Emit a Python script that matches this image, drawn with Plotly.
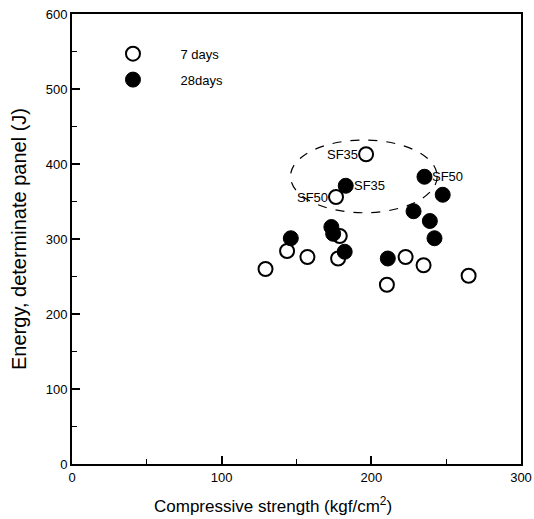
import plotly.graph_objects as go

# 7 days (open circles)
x7 = [196.5, 176.4, 178.9, 177.8, 143.7, 157.3, 129.3, 222.9, 234.9, 210.4, 265.0]
y7 = [413, 356, 304, 274, 284, 276, 260, 276, 265, 239, 251]
# 28 days (filled circles)
x28 = [182.9, 173.3, 174.5, 182.2, 146.2, 235.5, 247.7, 228.2, 239.1, 242.2, 211.0]
y28 = [371, 316, 307, 283, 301, 383, 359, 337, 324, 301, 274]

x_ticks = [0, 100, 200, 300]
y_ticks = [0, 100, 200, 300, 400, 500, 600]

# point labels: (x, y, text, side)
labels = [
    (196.5, 413, "SF35", "left"),
    (176.4, 356, "SF50", "left"),
    (182.9, 371, "SF35", "right"),
    (235.5, 383, "SF50", "right"),
]

font_family = "Liberation Sans, Arial, sans-serif"

fig = go.Figure()
fig.add_trace(go.Scatter(
    x=x7, y=y7, mode="markers", name="7 days", legendgroup="a",
    marker=dict(symbol="circle", size=14, color="white",
                line=dict(color="black", width=2)),
))
fig.add_trace(go.Scatter(
    x=x28, y=y28, mode="markers", name="28days", legendgroup="b",
    marker=dict(symbol="circle", size=15, color="black",
                line=dict(color="black", width=1)),
))

for lx, ly, txt, side in labels:
    fig.add_annotation(
        x=lx, y=ly, text=txt, showarrow=False,
        xanchor="right" if side == "left" else "left",
        xshift=-6 if side == "left" else 6,
        yanchor="middle",
        font=dict(family=font_family, size=13, color="black"),
    )

# dashed ellipse grouping SF points
fig.add_shape(type="circle", xref="x", yref="y",
              x0=146, x1=244, y0=335, y1=432,
              line=dict(color="black", width=1.2, dash="dash"))

axis_common = dict(
    showgrid=False, zeroline=False, automargin=False,
    showline=True, linecolor="black", linewidth=2, mirror=True,
    ticks="inside", ticklen=8, tickwidth=1.5, tickcolor="black",
    tickfont=dict(family=font_family, size=13, color="black"),
)

fig.update_xaxes(
    range=[0, 300], tickvals=x_ticks,
    minor=dict(ticks="inside", ticklen=5, dtick=50, tickcolor="black", tickwidth=1.2),
    **axis_common,
)
fig.update_yaxes(
    range=[0, 600], tickvals=y_ticks,
    minor=dict(ticks="inside", ticklen=5, dtick=50, tickcolor="black", tickwidth=1.2),
    title=dict(text="Energy, determinate panel (J)",
               font=dict(family=font_family, size=20, color="black"), standoff=14),
    **axis_common,
)

# x-axis title (slightly left of centre, as in the reference)
fig.add_annotation(
    xref="paper", yref="paper", x=0.448, y=-0.09,
    text="Compressive strength (kgf/cm<sup>2</sup>)", showarrow=False,
    xanchor="center", yanchor="middle",
    font=dict(family=font_family, size=17, color="black"),
)

fig.update_layout(
    width=534, height=519,
    margin=dict(l=72, r=13, t=14, b=55),
    paper_bgcolor="white", plot_bgcolor="white",
    showlegend=True,
    legend=dict(x=0.03, y=0.945, xanchor="left", yanchor="top",
                bgcolor="rgba(0,0,0,0)", itemwidth=85,
                font=dict(family=font_family, size=13, color="black"),
                tracegroupgap=6),
)

fig.write_html("out.html")
